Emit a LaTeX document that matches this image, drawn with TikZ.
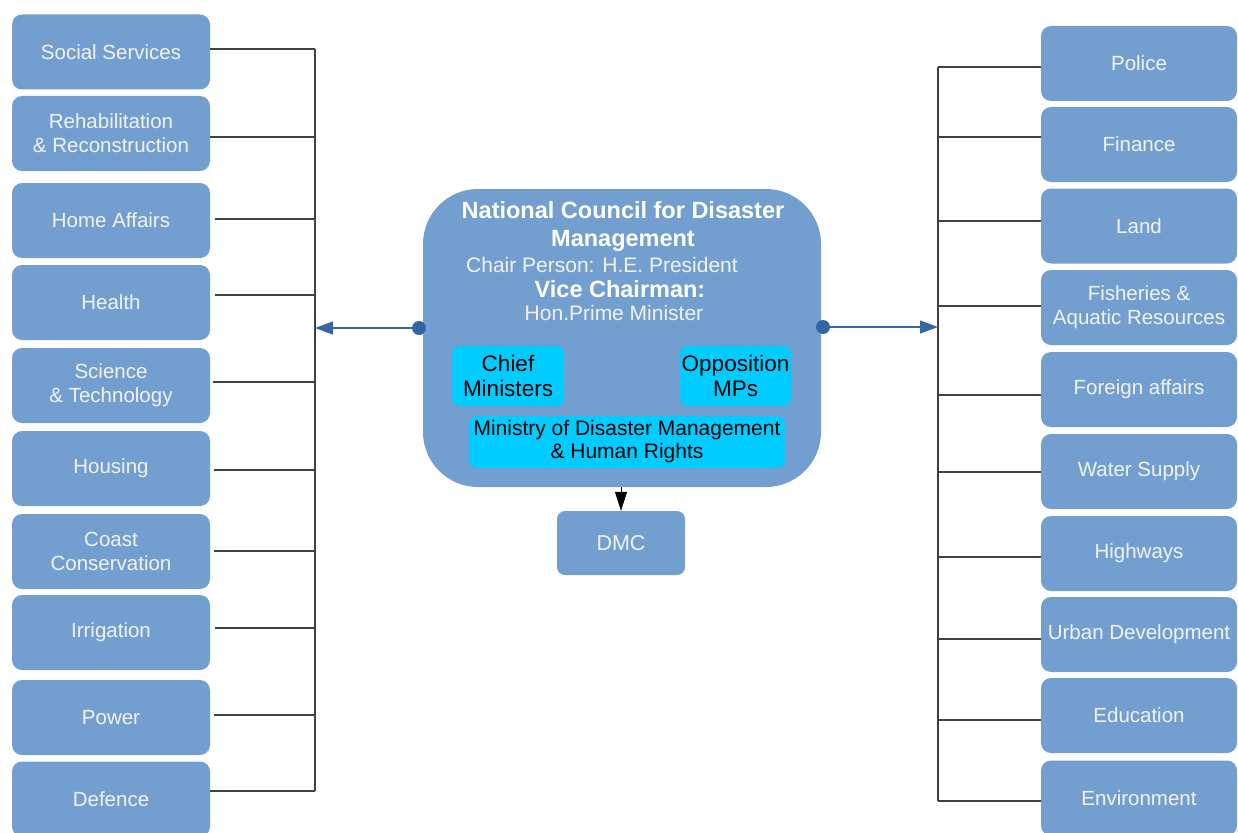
\documentclass[tikz,border=0pt]{standalone}
\usepackage{fontspec}
\setmainfont{Liberation Sans}
\usetikzlibrary{arrows.meta}
\definecolor{boxblue}{HTML}{729FCF}
\definecolor{cyanbox}{HTML}{00CCFF}
\definecolor{arrowblue}{HTML}{3465A4}
\definecolor{wiregray}{HTML}{404040}
\definecolor{boxtext}{HTML}{F2F2F2}
\begin{document}
\begin{tikzpicture}[x=1pt,y=-1pt,
  dept/.style={rectangle,rounded corners=10pt,fill=boxblue,text=boxtext,
    minimum width=198pt,minimum height=75pt,inner sep=0pt,align=center,
    font=\fontsize{20.5}{24}\selectfont},
  cyanb/.style={rectangle,rounded corners=8pt,fill=cyanbox,text=black,
    inner sep=0pt,align=center,font=\fontsize{22.5}{25}\selectfont},
  wire/.style={draw=wiregray,line width=1.2pt},
  bluearrow/.style={draw=arrowblue,line width=1.2pt,
    -{Triangle[length=18pt,width=13pt]}},
  ctext/.style={text=boxtext,inner sep=0pt,font=\fontsize{21}{24}\selectfont},
  cbold/.style={text=white,inner sep=0pt,align=center,
    font=\bfseries\fontsize{23.5}{28}\selectfont}]
\useasboundingbox (0,0) rectangle (1238,832);
\clip (0,0) rectangle (1238,832);

% buses
\coordinate (lbt) at (315,49);
\coordinate (lbb) at (315,791);
\coordinate (rbt) at (938,67);
\coordinate (rbb) at (938,801);
\draw[wire] (lbt) -- (lbb);
\draw[wire] (rbt) -- (rbb);

% left departments
\foreach \i/\cy/\ly/\g/\t in {
  1/52/49/0/{Social Services},
  2/133.5/137/0/{Rehabilitation\\\& Reconstruction},
  3/220.5/219/5/{Home Affairs},
  4/302.5/295/5/{Health},
  5/385.5/382/3/{Science\\\& Technology},
  6/468.5/470/4/{Housing},
  7/551.5/551/4/{Coast\\Conservation},
  8/632.5/628/5/{Irrigation},
  9/717.5/715/4/{Power},
  10/799/791/0/{Defence}}{
  \node[dept] (L\i) at (111,\cy) {\t};
  \draw[wire,shorten >=\g pt] (lbt |- 0,\ly) -- (L\i.east |- 0,\ly);
}

% right departments
\foreach \i/\cy/\ly/\t in {
  1/63.5/67/{Police},
  2/144.5/137/{Finance},
  3/226/221/{Land},
  4/307.5/306/{Fisheries \&\\Aquatic Resources},
  5/389.5/395/{Foreign affairs},
  6/471.5/472/{Water Supply},
  7/553.5/557/{Highways},
  8/634.5/639/{Urban Development},
  9/715.5/720/{Education},
  10/798/801/{Environment}}{
  \node[dept,minimum width=196pt] (R\i) at (1139,\cy) {\t};
  \draw[wire] (rbt |- 0,\ly) -- (R\i.west |- 0,\ly);
}

% central council
\node[rectangle,rounded corners=55pt,fill=boxblue,minimum width=398pt,
  minimum height=298pt,inner sep=0pt] (C) at (622,338) {};
\node[cbold] (title) at (623,226) {National Council for Disaster\\Management};
\node[ctext] (chair) at (602,265) {Chair Person: H.E. President};
\node[cbold] (vice) at (620,289) {Vice Chairman:};
\node[ctext] (hon) at (614,313) {Hon.Prime Minister};
\node[cyanb,minimum width=112pt,minimum height=60pt] (chief) at (508,376)
  {Chief\\Ministers};
\node[cyanb,minimum width=111pt,minimum height=60pt] (opp) at (735.5,376)
  {Opposition\\MPs};
\node[cyanb,minimum width=316pt,minimum height=52pt,
  font=\fontsize{21}{23}\selectfont] (mdm) at (627,442)
  {Ministry of Disaster Management\\\& Human Rights};

% DMC
\node[dept,rounded corners=8pt,minimum width=128pt,minimum height=64pt,
  font=\fontsize{21.5}{24}\selectfont] (DMC) at (621,543) {DMC};
\draw[black,line width=1pt,-{Triangle[length=19pt,width=12pt]}]
  (DMC.north |- C.south) -- (DMC.north);

% side arrows
\coordinate (ld) at (419,328);
\coordinate (rd) at (823,327);
\draw[bluearrow] (ld) -- (lbt |- ld);
\draw[bluearrow] (rd) -- (rbt |- rd);
\fill[arrowblue] (ld) circle (7pt);
\fill[arrowblue] (rd) circle (7pt);
\end{tikzpicture}
\end{document}
